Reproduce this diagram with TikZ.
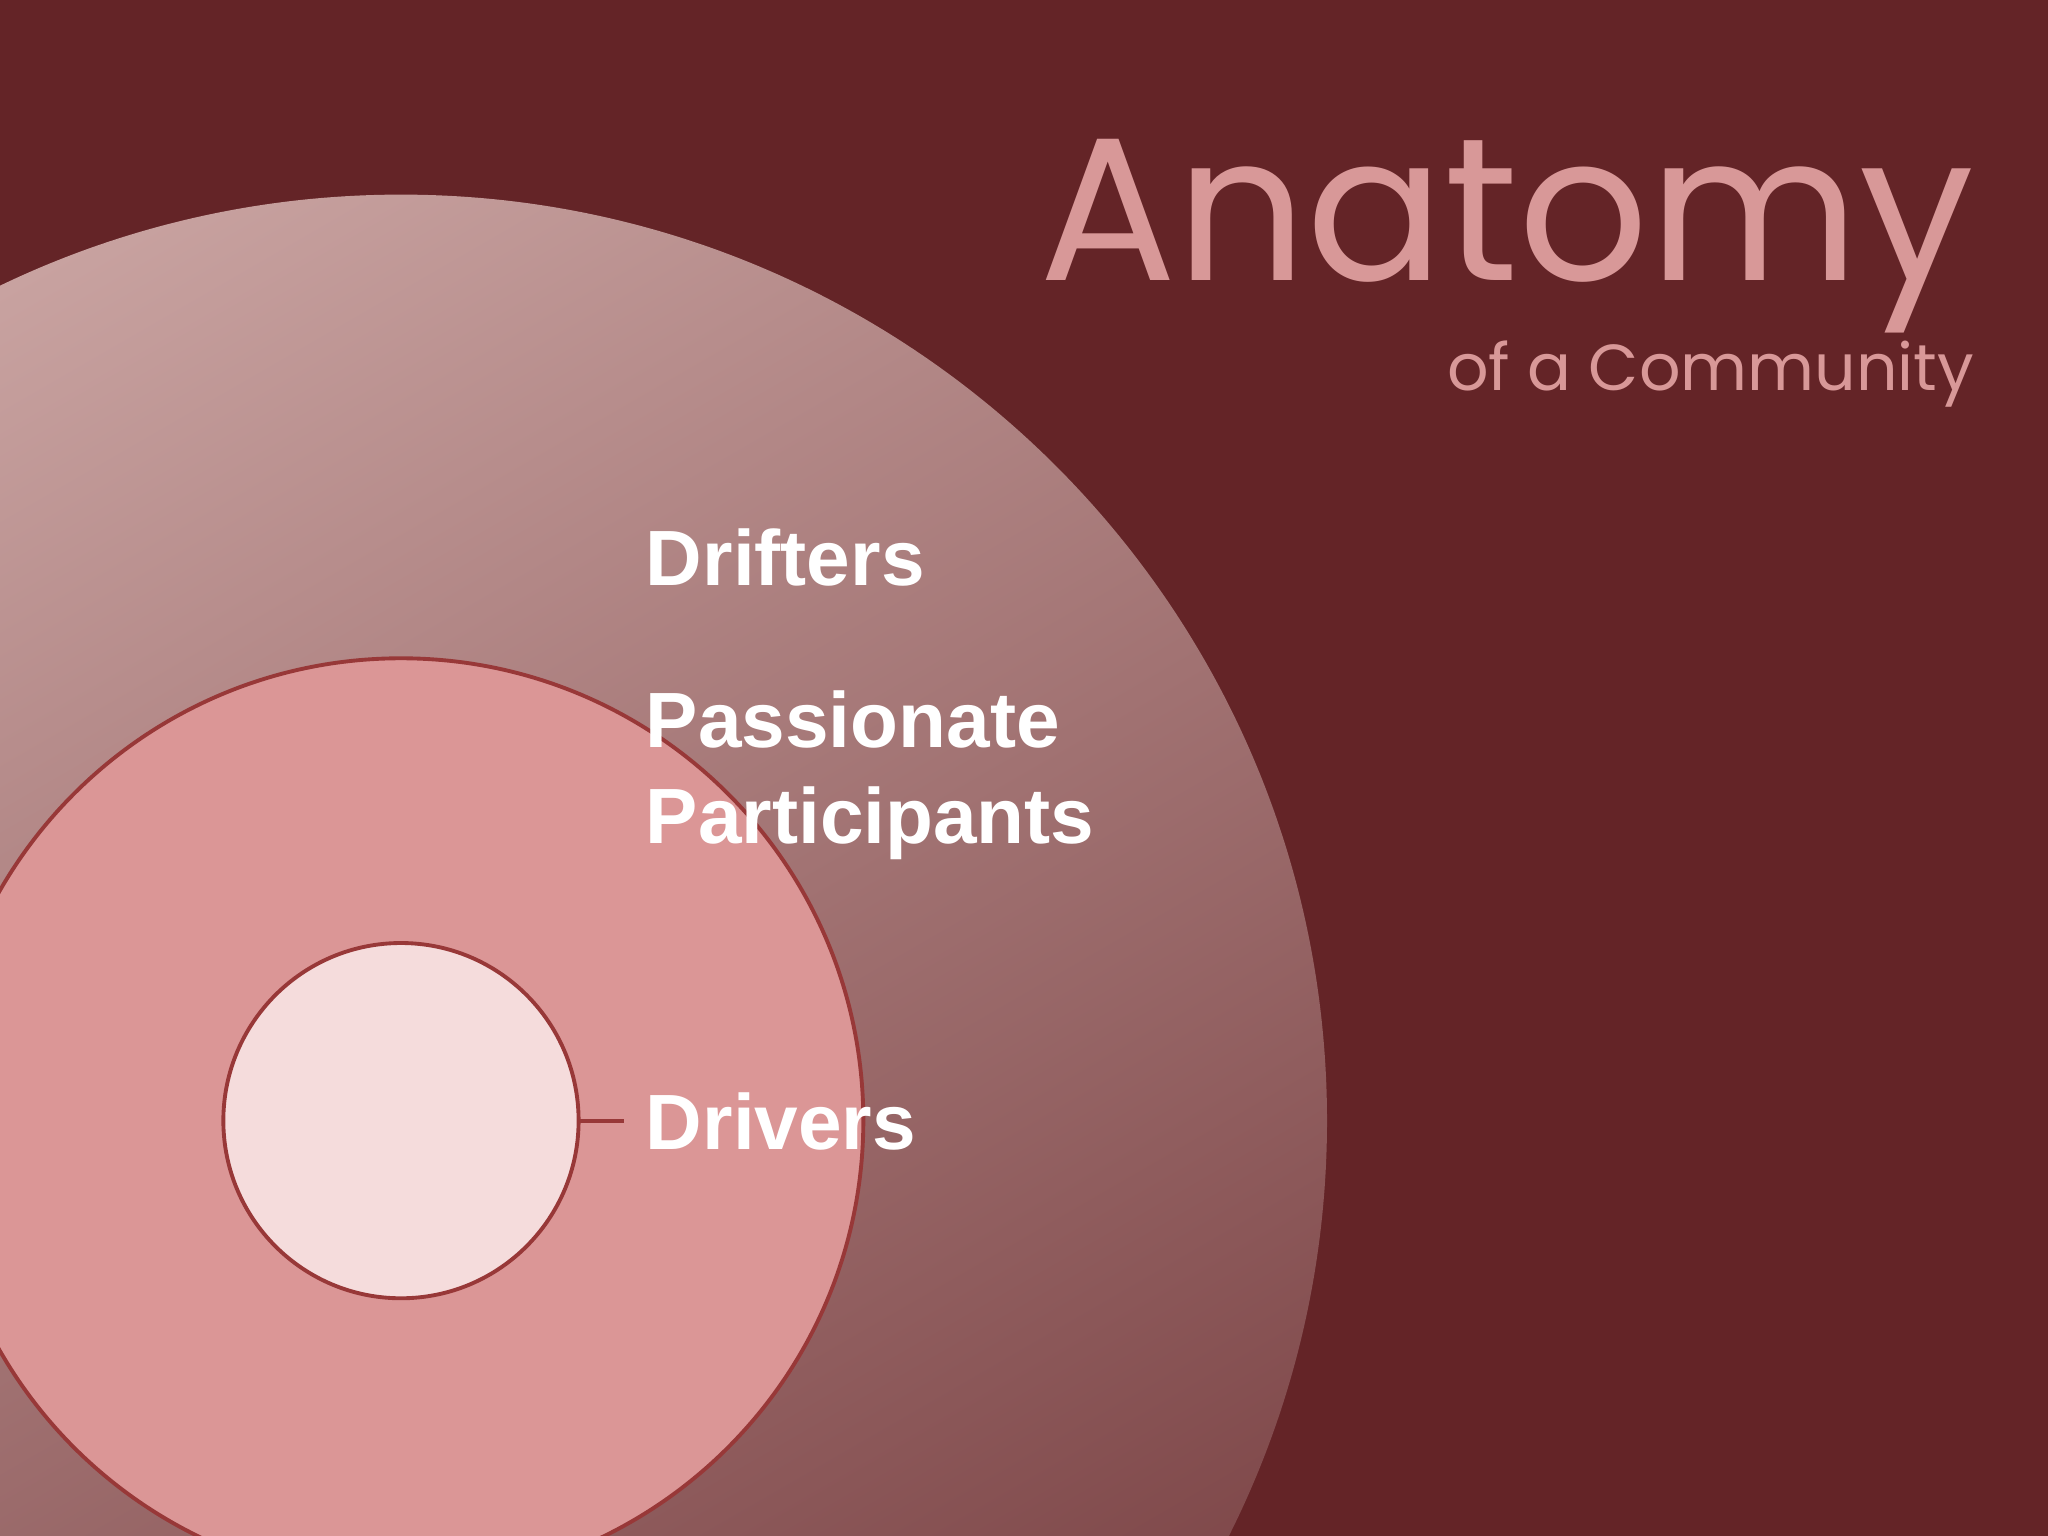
\documentclass[tikz,border=0pt]{standalone}
\usepackage{fontspec}
\setmainfont{Liberation Sans}
\newfontfamily\titlefont{Poppins}
\definecolor{bg}{HTML}{642427}
\definecolor{outA}{HTML}{C8A2A0}
\definecolor{outB}{HTML}{7A4244}
\definecolor{mid}{HTML}{DB9696}
\definecolor{edge}{HTML}{983838}
\definecolor{inner}{HTML}{F5DCDC}
\definecolor{ttl}{HTML}{D89898}
\tikzset{lbl/.style={anchor=west,text=white,font=\fontsize{22.3}{27.5}\selectfont\bfseries,align=left,inner sep=0pt}}
\begin{document}
\begin{tikzpicture}[x=0.013061cm,y=-0.013061cm]
\fill[bg] (0,0) rectangle (1568,1176);
\useasboundingbox (0,0) rectangle (1568,1176);
\begin{scope}
\clip (0,0) rectangle (1568,1176);
\shade[top color=outA,bottom color=outB,shading angle=30] (307,858) circle[radius=709];
\draw[edge,line width=1.1pt,fill=mid] (307,858) circle[radius=354];
\draw[edge,line width=1.1pt,fill=inner] (307,858) node (c) {} circle[radius=136];
\end{scope}
\coordinate (ie) at (443,858);
\coordinate (le) at (478,858);
\draw[edge,line width=1.1pt] (ie) -- (le);
\node[lbl,anchor=base west] (drifters) at (494,448) {Drifters};
\node[lbl,anchor=base west] (pp) at (494,646) {Passionate\\Participants};
\node[lbl,anchor=base west] (drivers) at (494,880) {Drivers};
\node[anchor=base east,text=ttl,inner sep=0pt,font=\titlefont\fontsize{58}{58}\selectfont] (t) at (1512,215) {Anatomy};
\node[anchor=base east,text=ttl,inner sep=0pt,font=\titlefont\fontsize{18.5}{20}\selectfont] (st) at (1512,299) {of a Community};
\end{tikzpicture}
\end{document}
